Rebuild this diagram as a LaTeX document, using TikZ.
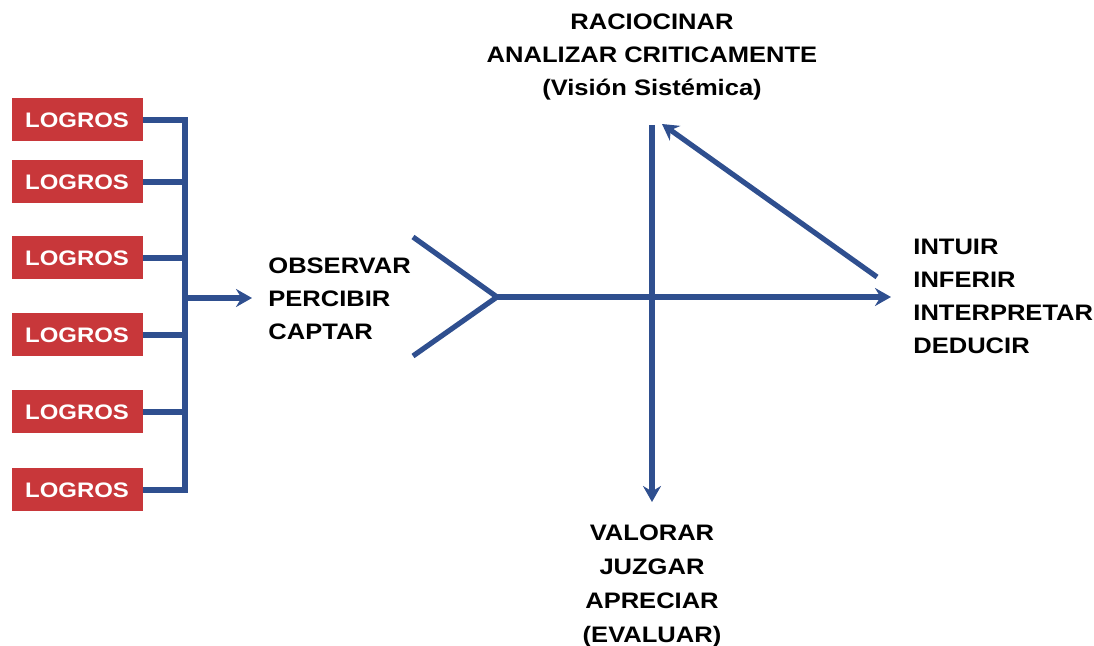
\documentclass[tikz,border=0pt]{standalone}
\usepackage{fontspec}
\setmainfont{Liberation Sans}[FakeStretch=1.14]
\usetikzlibrary{arrows.meta}
\definecolor{azul}{RGB}{47,79,143}
\definecolor{rojo}{RGB}{200,55,58}
\begin{document}
\begin{tikzpicture}[x=0.5pt, y=-0.5pt, >={Stealth[length=8pt,width=9pt,inset=2.7pt]},
	linea/.style={azul, line width=2.6pt},
	logro/.style={fill=rojo, text=white, font=\bfseries\fontsize{10.5}{12}\selectfont, minimum width=65.5pt, minimum height=21.5pt, inner sep=0pt},
	rotulo/.style={font=\bfseries\fontsize{11.2}{16.5}\selectfont, inner sep=0pt}]
	\useasboundingbox (0,0) rectangle (1094,646);
	% Cajas de logros y barra colectora
	\foreach \i/\y in {1/120,2/182,3/258,4/335,5/412,6/490}{
		\node[logro] (L\i) at (77,\y) {LOGROS};
		\coordinate (B\i) at (185,\y);
	}
	\draw[linea] (L1.east) -- (B1) -- (B6) -- (L6.east);
	\foreach \i in {2,...,5} \draw[linea] (L\i.east) -- (B\i);
	\coordinate (S) at (185,298); % Salida de la barra
	\coordinate (So) at (252,298); % Punta de la flecha
	\draw[linea,->] (S) -- (So);
	\node[rotulo, anchor=west, align=left] (obs) at (268,299) {OBSERVAR\\PERCIBIR\\CAPTAR};
	% Cola de pez y eje horizontal
	\coordinate (P) at (497,297);
	\coordinate (Fa) at (413,237);
	\coordinate (Fb) at (413,356);
	\coordinate (E) at (891,297);
	\draw[linea] (Fa) -- (P) -- (Fb);
	\draw[linea,->] (P) -- (E);
	% Eje vertical
	\coordinate (Vt) at (652,125);
	\coordinate (Vb) at (652,502);
	\draw[linea,->] (Vt) -- (Vb);
	% Flecha diagonal
	\coordinate (Dr) at (877,277);
	\coordinate (Dt) at (662,124);
	\draw[linea,->] (Dr) -- (Dt);
	\node[rotulo, align=center] (rac) at (652,57) {RACIOCINAR\\ANALIZAR CRITICAMENTE\\(Visión Sistémica)};
	\node[rotulo, align=center, font=\bfseries\fontsize{11.2}{17}\selectfont] (val) at (652,586) {VALORAR\\JUZGAR\\APRECIAR\\(EVALUAR)};
	\node[rotulo, anchor=west, align=left] (int) at (913,296) {INTUIR\\INFERIR\\INTERPRETAR\\DEDUCIR};
\end{tikzpicture}
\end{document}
